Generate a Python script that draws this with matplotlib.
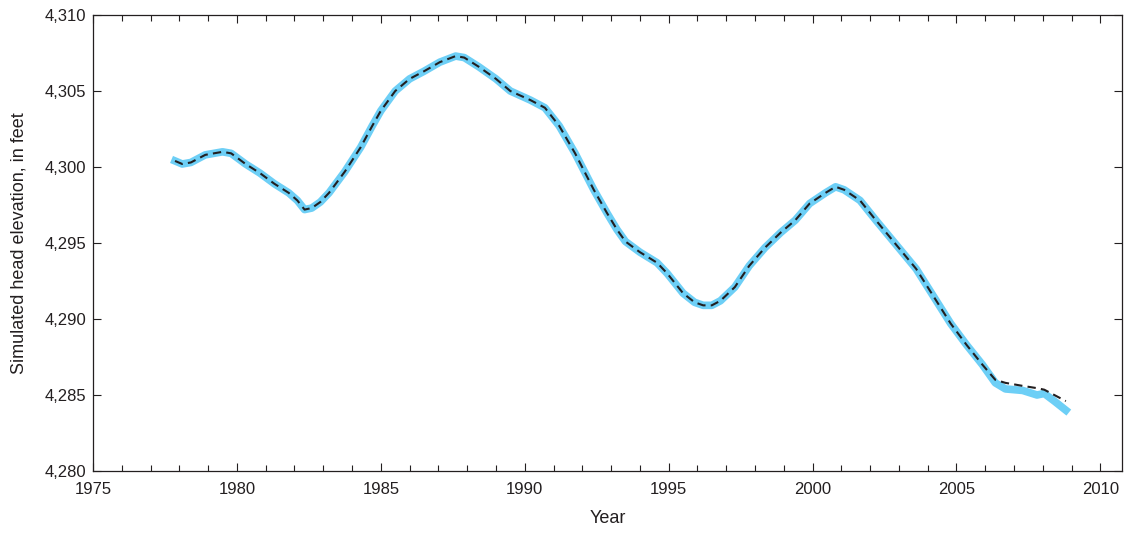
import matplotlib.pyplot as plt
from matplotlib.ticker import MultipleLocator, FuncFormatter

plt.rcParams['font.family'] = ['Liberation Sans', 'DejaVu Sans']

# simulated head
years = [1977.85, 1978.1, 1978.4, 1978.9, 1979.5, 1979.8, 1980.3, 1980.8, 1981.3,
         1981.8, 1982.1, 1982.35, 1982.6, 1982.9, 1983.2, 1983.75, 1984.3, 1984.7,
         1985.0, 1985.5, 1986.0, 1986.5, 1987.05, 1987.6, 1987.9, 1988.4, 1989.0,
         1989.5, 1990.2, 1990.7, 1991.2, 1991.75, 1992.4, 1992.85, 1993.2, 1993.5,
         1994.0, 1994.6, 1994.95, 1995.5, 1995.9, 1996.2, 1996.5, 1996.8, 1997.3,
         1997.8, 1998.35, 1998.9, 1999.4, 1999.9, 2000.45, 2000.8, 2001.1, 2001.65,
         2002.2, 2002.9, 2003.6, 2004.1, 2004.8, 2005.35, 2005.9, 2006.35, 2006.7,
         2007.3, 2007.8, 2008.05, 2008.4, 2008.8]
head_blue = [4300.4, 4300.2, 4300.3, 4300.8, 4301.0, 4300.9, 4300.2, 4299.6, 4298.9,
             4298.3, 4297.8, 4297.2, 4297.3, 4297.7, 4298.3, 4299.7, 4301.3, 4302.7,
             4303.7, 4305.0, 4305.8, 4306.3, 4306.9, 4307.3, 4307.2, 4306.6, 4305.8,
             4305.0, 4304.4, 4303.9, 4302.7, 4300.9, 4298.5, 4297.0, 4295.9, 4295.1,
             4294.4, 4293.7, 4293.0, 4291.7, 4291.1, 4290.9, 4290.9, 4291.2, 4292.1,
             4293.5, 4294.7, 4295.7, 4296.5, 4297.6, 4298.3, 4298.7, 4298.5, 4297.8,
             4296.5, 4294.9, 4293.3, 4291.8, 4289.7, 4288.3, 4287.0, 4285.8, 4285.4,
             4285.3, 4285.0, 4285.1, 4284.6, 4284.0]
head_dash = head_blue[:61] + [4286.0, 4285.8, 4285.6, 4285.45, 4285.35, 4285.0, 4284.6]

fig = plt.figure(figsize=(11.26, 5.37), dpi=100)
ax = fig.add_axes([0.0826, 0.1229, 0.9138, 0.8491])

ax.plot(years, head_blue, color='#6dcff6', lw=5.5, solid_joinstyle='round')
ax.plot(years, head_dash, color='#231f20', lw=1.5, dashes=(4, 2.5))

ax.set_xlim(1975, 2010.75)
ax.set_ylim(4280, 4310)
ax.xaxis.set_major_locator(MultipleLocator(5))
ax.xaxis.set_minor_locator(MultipleLocator(1))
ax.yaxis.set_major_locator(MultipleLocator(5))
ax.yaxis.set_major_formatter(FuncFormatter(lambda v, p: f'{v:,.0f}'))
ax.tick_params(which='both', direction='in', top=True, right=True,
               width=0.8, colors='#231f20', labelsize=12)
ax.tick_params(which='major', length=6)
ax.tick_params(which='minor', length=4)
ax.tick_params(axis='x', pad=8)
ax.tick_params(axis='y', pad=5)
for s in ax.spines.values():
    s.set_linewidth(0.9)
    s.set_color('#231f20')

ax.set_xlabel('Year', fontsize=13, color='#231f20', labelpad=9)
ax.set_ylabel('Simulated head elevation, in feet', fontsize=13, color='#231f20', labelpad=12)

fig.savefig('out.png', dpi=100)
